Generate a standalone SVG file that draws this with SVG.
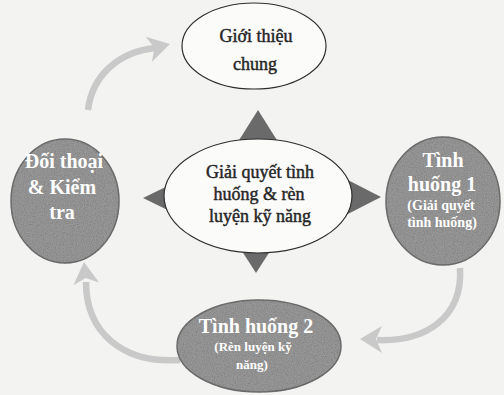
<svg xmlns="http://www.w3.org/2000/svg" width="504" height="395" viewBox="0 0 504 395">
  <defs>
    <style>
      .page { fill: #f3f3f1; }
      .lbl { font-family: "Liberation Serif", "DejaVu Serif", serif; text-anchor: middle; }
      .ink { fill: #262626; stroke: #262626; stroke-width: 0.45; font-size: 18px; }
      .rev { fill: #ffffff; font-weight: bold; }
      .oval-w { fill: #fbfbfa; stroke: #2e2e2e; stroke-width: 1.2; }
      .oval-g { fill: #979797; stroke: #707070; stroke-width: 1.5; }
      .tri { fill: #6a6a6a; }
      .cyc { fill: none; stroke: #c9c9c9; stroke-width: 6.5; }
      .cyc-head { fill: #c9c9c9; }
    </style>
    <filter id="grain" x="-5%" y="-5%" width="110%" height="110%">
      <feTurbulence type="fractalNoise" baseFrequency="0.9" numOctaves="2" seed="4" result="noise"/>
      <feColorMatrix in="noise" type="matrix" values="0 0 0 0 0  0 0 0 0 0  0 0 0 0 0  0.6 0 0 0 -0.22" result="dots"/>
      <feComposite in="dots" in2="SourceGraphic" operator="in" result="speckle"/>
      <feMerge>
        <feMergeNode in="SourceGraphic"/>
        <feMergeNode in="speckle"/>
      </feMerge>
    </filter>
  </defs>

  <!-- paper -->
  <rect class="page" x="0" y="0" width="504" height="395"/>

  <!-- connectors: cycle arrows and pointers from the hub -->
  <g id="connectors">
    <path class="cyc" d="M 88 110 C 92 76, 118 52, 155 48"/>
    <polygon class="cyc-head" points="170,44 145.6,36.7 154.5,47.8 151.8,61.9"/>

    <path class="cyc" d="M 460 268 C 463 318, 425 342, 377 340"/>
    <polygon class="cyc-head" points="360,339 382,326 376,339 382,353"/>

    <path class="cyc" d="M 180 360 C 122 364, 86 332, 86 282"/>
    <polygon class="cyc-head" points="84,262 99.1,282.6 85.6,277.9 73.3,285.2"/>

    <polygon class="tri" points="258,110 236,145 280,145"/>
    <polygon class="tri" points="256,273 238,245 274,245"/>
    <polygon class="tri" points="143,198 180,180 180,216"/>
    <polygon class="tri" points="381,197 344,178 344,216"/>
  </g>

  <g id="intro">
    <ellipse class="oval-w" cx="254" cy="46" rx="72" ry="43"/>
    <text class="lbl ink" x="256" y="42">Giới thiệu</text>
    <text class="lbl ink" x="255" y="70">chung</text>
  </g>

  <g id="hub">
    <ellipse class="oval-w" cx="258" cy="196" rx="94" ry="57"/>
    <text class="lbl ink" x="260" y="178">Giải quyết tình</text>
    <text class="lbl ink" x="259" y="200">huống &amp; rèn</text>
    <text class="lbl ink" x="260" y="222">luyện kỹ năng</text>
  </g>

  <g id="dialogue">
    <ellipse class="oval-g" filter="url(#grain)" cx="65" cy="201" rx="54" ry="62"/>
    <text class="lbl rev" x="64" y="168" font-size="20">Đối thoại</text>
    <text class="lbl rev" x="62" y="194" font-size="20">&amp; Kiểm</text>
    <text class="lbl rev" x="62" y="219" font-size="20">tra</text>
  </g>

  <g id="case1">
    <ellipse class="oval-g" filter="url(#grain)" cx="443" cy="201" rx="57" ry="64"/>
    <text class="lbl rev" x="443" y="167" font-size="20">Tình</text>
    <text class="lbl rev" x="442" y="191" font-size="20">huống 1</text>
    <text class="lbl rev" x="441" y="210" font-size="14">(Giải quyết</text>
    <text class="lbl rev" x="442" y="227" font-size="14">tình huống)</text>
  </g>

  <g id="case2">
    <ellipse class="oval-g" filter="url(#grain)" cx="259" cy="346" rx="82" ry="46"/>
    <text class="lbl rev" x="256" y="333" font-size="20">Tình huống 2</text>
    <text class="lbl rev" x="253" y="351" font-size="13">(Rèn luyện kỹ</text>
    <text class="lbl rev" x="252" y="369" font-size="13">năng)</text>
  </g>
</svg>
